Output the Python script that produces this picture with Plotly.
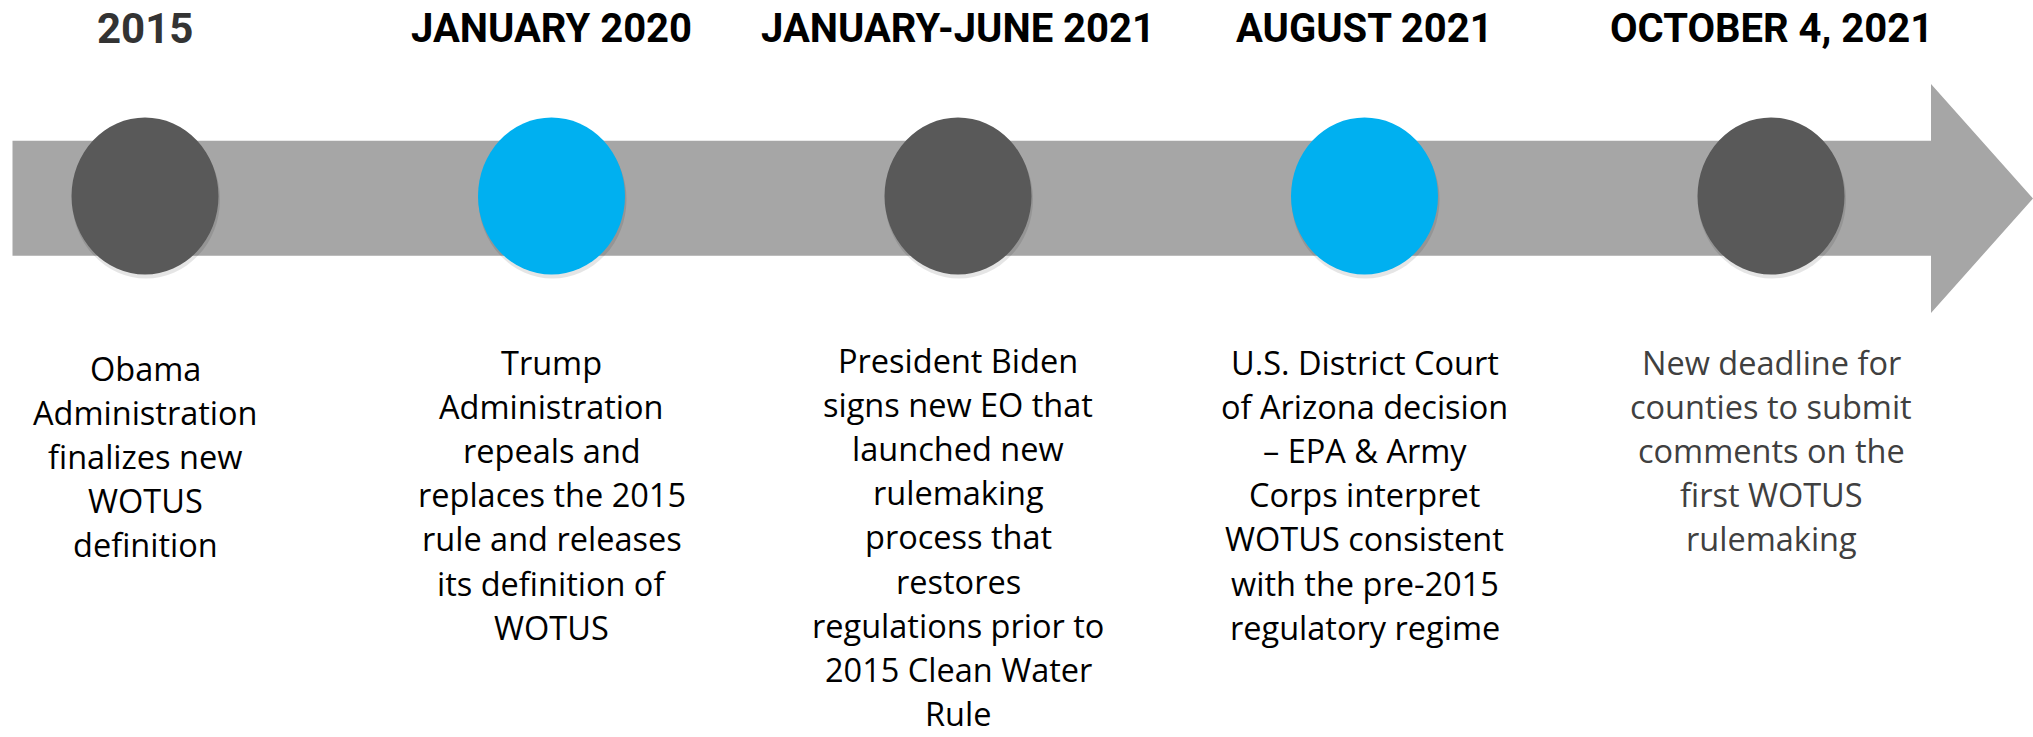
import plotly.graph_objects as go

# ---------------- data ----------------
dates = ["2015", "JANUARY 2020", "JANUARY-JUNE 2021", "AUGUST 2021", "OCTOBER 4, 2021"]
descriptions = [
    ["Obama", "Administration", "finalizes new", "WOTUS", "definition"],
    ["Trump", "Administration", "repeals and", "replaces the 2015", "rule and releases",
     "its definition of", "WOTUS"],
    ["President Biden", "signs new EO that", "launched new", "rulemaking", "process that",
     "restores", "regulations prior to", "2015 Clean Water", "Rule"],
    ["U.S. District Court", "of Arizona decision", "\u2013 EPA & Army", "Corps interpret",
     "WOTUS consistent", "with the pre-2015", "regulatory regime"],
    ["New deadline for", "counties to submit", "comments on the", "first WOTUS", "rulemaking"],
]
event_kind = ["past", "federal", "past", "federal", "past"]

# ---------------- layout constants ----------------
W, H = 2033, 737
X0_PX, STEP_PX = 145.0, 406.5          # pixel position of first event, spacing between events
def ux(px):                              # pixel -> event units
    return (px - X0_PX) / STEP_PX

kind_color = {"past": "#595959", "federal": "#00B0F0"}
title_color = ["#333333", "#000000", "#000000", "#000000", "#000000"]
title_size = [42, 40, 40, 40, 40]
desc_color = ["#000000", "#000000", "#000000", "#000000", "#404040"]
desc_top = [370, 364, 362, 364, 364]
LINE_PX = 44.2

CIRC_HALF_W = 73.5 / STEP_PX
CIRC_Y0, CIRC_Y1 = 117.5, 274.5

fig = go.Figure()
# invisible trace to establish axes
fig.add_trace(go.Scatter(x=list(range(len(dates))), y=[196] * len(dates), mode="markers",
                         marker=dict(size=1, opacity=0), hoverinfo="skip", showlegend=False))

shapes = []
# arrow body + head
bx0, bx1 = ux(12.5), ux(1931)
tip = ux(2033)
path = (f"M {bx0},140.7 L {bx1},140.7 L {bx1},84 L {tip},198.5 L {bx1},313 "
        f"L {bx1},255.7 L {bx0},255.7 Z")
shapes.append(dict(type="path", path=path, xref="x", yref="y",
                   fillcolor="#A6A6A6", line=dict(width=0), layer="below"))

for i, kind in enumerate(event_kind):
    # soft shadow
    shapes.append(dict(type="circle", xref="x", yref="y",
                       x0=i - CIRC_HALF_W + 0.5 / STEP_PX, x1=i + CIRC_HALF_W + 1.5 / STEP_PX,
                       y0=CIRC_Y0 + 3, y1=CIRC_Y1 + 4,
                       fillcolor="rgba(0,0,0,0.10)", line=dict(width=0), layer="above"))
    shapes.append(dict(type="circle", xref="x", yref="y",
                       x0=i - CIRC_HALF_W, x1=i + CIRC_HALF_W, y0=CIRC_Y0, y1=CIRC_Y1,
                       fillcolor=kind_color[kind], line=dict(width=0), layer="above"))

annotations = []
for i, d in enumerate(dates):
    annotations.append(dict(x=i, y=28, xref="x", yref="y", text=f"<b>{d}</b>", showarrow=False,
                            xanchor="center", yanchor="middle", borderpad=0,
                            font=dict(family="Roboto, Liberation Sans, sans-serif",
                                      size=title_size[i], color=title_color[i])))
    for k, line in enumerate(descriptions[i]):
        annotations.append(dict(x=i, y=desc_top[i] - 2 + k * LINE_PX, xref="x", yref="y",
                                text=line, showarrow=False, xanchor="center", yanchor="middle",
                                borderpad=0,
                                font=dict(family="Open Sans, Noto Sans, sans-serif", size=32.5,
                                          color=desc_color[i])))

fig.update_layout(
    width=W, height=H, margin=dict(l=0, r=0, t=0, b=0),
    paper_bgcolor="white", plot_bgcolor="white",
    xaxis=dict(range=[ux(0), ux(W)], visible=False, fixedrange=True),
    yaxis=dict(range=[H, 0], visible=False, fixedrange=True),
    shapes=shapes, annotations=annotations, showlegend=False,
)

fig.write_html("out.html")
